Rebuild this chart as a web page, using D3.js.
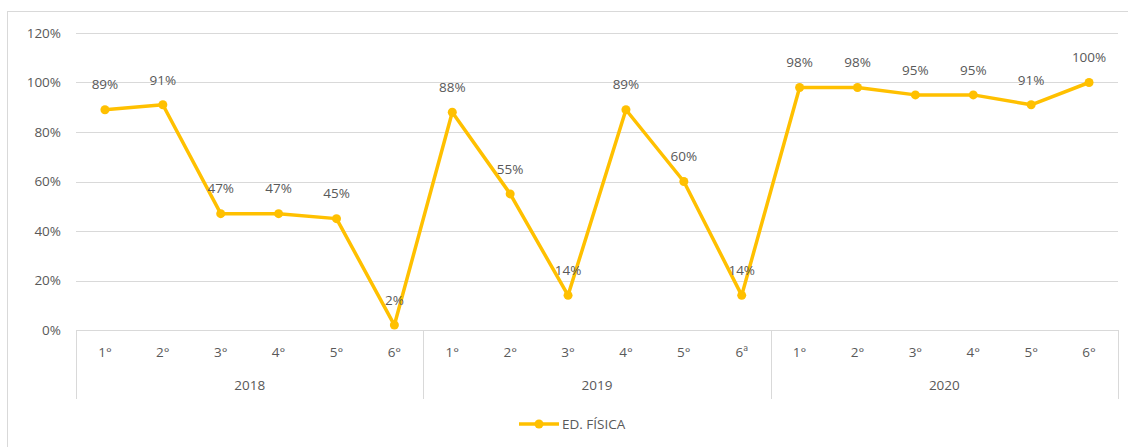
<!DOCTYPE html>
<html><head><meta charset="utf-8">
<script src="https://cdn.jsdelivr.net/npm/d3@7"></script>
<style>
body{margin:0;background:#fff;}
text{font-family:"Open Sans","Liberation Sans",sans-serif;fill:#595959;}
</style></head>
<body><svg id="c" width="1128" height="447"></svg>
<script>
const years = ["2018","2019","2020"];
const grades = [["1°","2°","3°","4°","5°","6°"],["1°","2°","3°","4°","5°","6ª"],["1°","2°","3°","4°","5°","6°"]];
const values = [89,91,47,47,45,2, 88,55,14,89,60,14, 98,98,95,95,91,100];
const yTicks = [0,20,40,60,80,100,120];
const seriesName = "ED. FÍSICA";

const svg = d3.select("#c");
const pLeft=76,pRight=1118,pTop=33,pBottom=330;
const fs = 13.5;
svg.append("rect").attr("x",7.5).attr("y",11.5).attr("width",1130).attr("height",450)
  .attr("fill","#fff").attr("stroke","#d9d9d9");

const cats = [];
years.forEach((yr,i)=>grades[i].forEach((g,j)=>cats.push({key:yr+"-"+j,label:g,year:yr,idx:i})));
const x = d3.scaleBand().domain(cats.map(c=>c.key)).range([pLeft,pRight]);
const y = d3.scaleLinear().domain([0,120]).range([pBottom,pTop]);

// gridlines
svg.append("g").selectAll("line").data(yTicks).join("line")
  .attr("x1",pLeft).attr("x2",pRight).attr("y1",d=>Math.round(y(d))+0.5).attr("y2",d=>Math.round(y(d))+0.5)
  .attr("stroke","#d9d9d9").attr("stroke-width",1);
svg.append("g").selectAll("text").data(yTicks).join("text")
  .attr("x",61).attr("y",d=>y(d)).attr("dy","0.35em").attr("text-anchor","end")
  .attr("font-size",fs).text(d=>d+"%");

// category axis
const bw = x.bandwidth();
const seps = [0,6,12,18].map(i=> i<18 ? x(cats[i].key) : pRight);
svg.append("g").selectAll("line").data(seps).join("line")
  .attr("x1",d=>Math.round(d)+0.5).attr("x2",d=>Math.round(d)+0.5).attr("y1",pBottom).attr("y2",399)
  .attr("stroke","#d9d9d9");
svg.append("g").selectAll("text").data(cats).join("text")
  .attr("x",d=>x(d.key)+bw/2).attr("y",352).attr("dy","0.35em").attr("text-anchor","middle")
  .attr("font-size",fs).text(d=>d.label);
svg.append("g").selectAll("text").data(years).join("text")
  .attr("x",(d,i)=>(seps[i]+seps[i+1])/2).attr("y",385).attr("dy","0.35em").attr("text-anchor","middle")
  .attr("font-size",fs).text(d=>d);

// line
const pts = cats.map((c,i)=>({x:x(c.key)+bw/2,v:values[i]}));
const color="#FFC000";
svg.append("path").datum(pts).attr("fill","none").attr("stroke",color).attr("stroke-width",3.5)
  .attr("stroke-linejoin","round")
  .attr("d",d3.line().x(d=>d.x).y(d=>y(d.v)));
svg.append("g").selectAll("circle").data(pts).join("circle")
  .attr("cx",d=>d.x).attr("cy",d=>y(d.v)).attr("r",4.5).attr("fill",color);
svg.append("g").selectAll("text").data(pts).join("text")
  .attr("x",d=>d.x).attr("y",d=>y(d.v)-25).attr("dy","0.35em").attr("text-anchor","middle")
  .attr("font-size",fs).text(d=>d.v+"%");

// legend
const lg = svg.append("g");
lg.append("line").attr("x1",519).attr("x2",559).attr("y1",424).attr("y2",424).attr("stroke",color).attr("stroke-width",3.5);
lg.append("circle").attr("cx",539).attr("cy",424).attr("r",4.5).attr("fill",color);
lg.append("text").attr("x",562).attr("y",424).attr("dy","0.35em").attr("font-size",fs).text(seriesName);
</script></body></html>
